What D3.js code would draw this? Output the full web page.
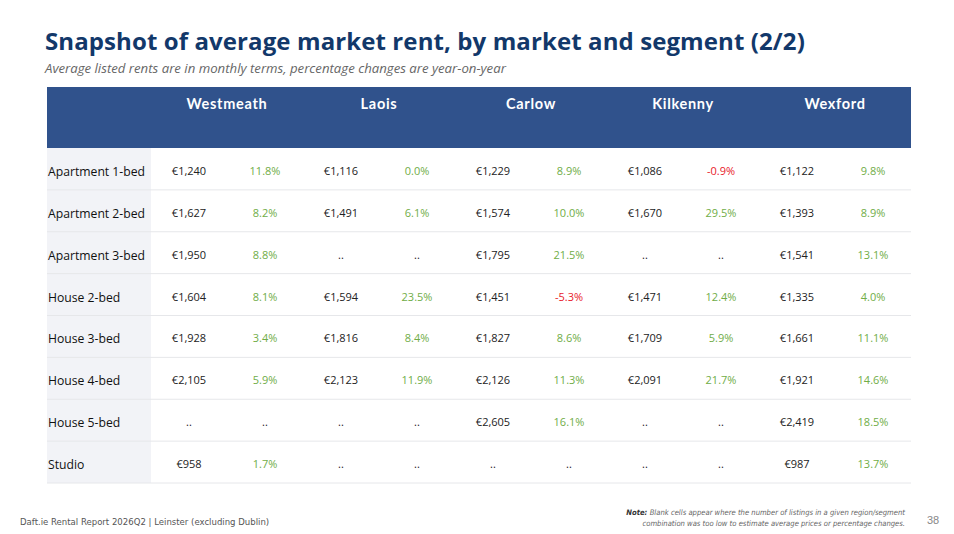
<!DOCTYPE html>
<html>
<head>
<meta charset="utf-8">
<script src="https://cdn.jsdelivr.net/npm/d3@7"></script>
<style>
  body { margin: 0; background: #fff; }
  svg { display: block; }
</style>
</head>
<body>
<div id="container"></div>
<script>
// données du tableau
const markets = ["Westmeath", "Laois", "Carlow", "Kilkenny", "Wexford"];
const segments = ["Apartment 1-bed", "Apartment 2-bed", "Apartment 3-bed", "House 2-bed",
  "House 3-bed", "House 4-bed", "House 5-bed", "Studio"];

// loyers moyens (null = pas assez d'annonces)
const rentWestmeath = [1240, 1627, 1950, 1604, 1928, 2105, null, 958];
const rentLaois = [1116, 1491, null, 1594, 1816, 2123, null, null];
const rentCarlow = [1229, 1574, 1795, 1451, 1827, 2126, 2605, null];
const rentKilkenny = [1086, 1670, null, 1471, 1709, 2091, null, null];
const rentWexford = [1122, 1393, 1541, 1335, 1661, 1921, 2419, 987];

// variation sur un an, en %
const chgWestmeath = [11.8, 8.2, 8.8, 8.1, 3.4, 5.9, null, 1.7];
const chgLaois = [0.0, 6.1, null, 23.5, 8.4, 11.9, null, null];
const chgCarlow = [8.9, 10.0, 21.5, -5.3, 8.6, 11.3, 16.1, null];
const chgKilkenny = [-0.9, 29.5, null, 12.4, 5.9, 21.7, null, null];
const chgWexford = [9.8, 8.9, 13.1, 4.0, 11.1, 14.6, 18.5, 13.7];

const rents = [rentWestmeath, rentLaois, rentCarlow, rentKilkenny, rentWexford];
const changes = [chgWestmeath, chgLaois, chgCarlow, chgKilkenny, chgWexford];

const W = 954, H = 534;
const tableLeft = 47, tableRight = 911,
  labelRight = 151,
  headTop = 87, headBottom = 148,
  bodyBottom = 483;

const font = "'Open Sans', sans-serif";
const navy = "#12386a", headBlue = "#30528c",
  green = "#70ad47", red = "#e8202a";

const svg = d3.select("#container").append("svg")
  .attr("width", W)
  .attr("height", H);

// titre + sous-titre
svg.append("text")
  .attr("x", 45).attr("y", 50)
  .style("font-family", font).style("font-weight", "bold")
  .style("font-size", "24px").style("fill", navy)
  .style("letter-spacing", "0.1px")
  .text("Snapshot of average market rent, by market and segment (2/2)");

svg.append("text")
  .attr("x", 45).attr("y", 73)
  .style("font-family", font).style("font-style", "italic")
  .style("font-size", "13.2px").style("fill", "#666")
  .text("Average listed rents are in monthly terms, percentage changes are year-on-year");

// échelles
const x = d3.scaleBand().domain(markets).range([labelRight, tableRight]);
const sub = d3.scaleBand().domain(["rent", "chg"]).range([0, x.bandwidth()]);
const y = d3.scaleBand().domain(segments).range([headBottom, bodyBottom]);

// en-tête
svg.append("rect")
  .attr("x", tableLeft).attr("y", headTop)
  .attr("width", tableRight - tableLeft).attr("height", headBottom - headTop)
  .attr("fill", headBlue);

svg.selectAll(".head")
  .data(markets)
  .enter().append("text")
    .attr("class", "head")
    .attr("x", d => x(d) + x.bandwidth() / 2)
    .attr("y", 109)
    .style("font-family", "Lato, 'Open Sans', sans-serif")
    .style("font-weight", "bold")
    .style("font-size", "14.5px")
    .style("letter-spacing", "0.7px")
    .style("text-anchor", "middle")
    .style("fill", "#fff")
    .text(d => d);

// colonne des segments
svg.append("rect")
  .attr("x", tableLeft).attr("y", headBottom)
  .attr("width", labelRight - tableLeft).attr("height", bodyBottom - headBottom)
  .attr("fill", "#f2f3f7");

// lignes de séparation
svg.selectAll(".sep")
  .data(segments)
  .enter().append("line")
    .attr("class", "sep")
    .attr("x1", tableLeft).attr("x2", tableRight)
    .attr("y1", d => y(d) + y.bandwidth())
    .attr("y2", d => y(d) + y.bandwidth())
    .attr("stroke", "#e6e7ea")
    .attr("stroke-width", 1);

svg.selectAll(".seg")
  .data(segments)
  .enter().append("text")
    .attr("class", "seg")
    .attr("x", 48)
    .attr("y", d => y(d) + y.bandwidth() / 2 + 7)
    .style("font-family", font)
    .style("font-size", "12.2px")
    .style("fill", "#111")
    .text(d => d);

// cellules
const cells = [];
markets.forEach((m, i) => {
  segments.forEach((s, j) => {
    cells.push({market: m, segment: s, kind: "rent", v: rents[i][j]});
    cells.push({market: m, segment: s, kind: "chg", v: changes[i][j]});
  });
});

const euro = d3.format(",.0f");

svg.selectAll(".cell")
  .data(cells)
  .enter().append("text")
    .attr("class", "cell")
    .attr("x", d => x(d.market) + sub(d.kind) + sub.bandwidth() / 2)
    .attr("y", d => y(d.segment) + y.bandwidth() / 2 + 6)
    .style("font-family", font)
    .style("font-size", "11px")
    .style("text-anchor", "middle")
    .style("fill", d => {
      if (d.v == null || d.kind == "rent") return "#222";
      return d.v < 0 ? red : green;
    })
    .text(d => {
      if (d.v == null) return "..";
      if (d.kind == "rent") return "€" + euro(d.v);
      return d.v.toFixed(1) + "%";
    });

// pied de page
svg.append("text")
  .attr("x", 20).attr("y", 525)
  .style("font-family", "'Liberation Sans Narrow', 'DejaVu Sans Condensed', sans-serif")
  .style("font-size", "9.5px").style("fill", "#555")
  .text("Daft.ie Rental Report 2026Q2 | Leinster (excluding Dublin)");

const note = svg.append("text")
  .attr("x", 905).attr("y", 515)
  .style("font-family", "'DejaVu Sans Condensed', sans-serif")
  .style("font-size", "7.6px").style("font-style", "italic")
  .style("text-anchor", "end").style("fill", "#666");
note.append("tspan").style("font-weight", "bold").style("fill", "#333").text("Note: ");
note.append("tspan").text("Blank cells appear where the number of listings in a given region/segment");

svg.append("text")
  .attr("x", 905).attr("y", 526)
  .style("font-family", "'DejaVu Sans Condensed', sans-serif")
  .style("font-size", "7.6px").style("font-style", "italic")
  .style("text-anchor", "end").style("fill", "#666")
  .text("combination was too low to estimate average prices or percentage changes.");

svg.append("text")
  .attr("x", 927).attr("y", 524)
  .style("font-family", "'Liberation Sans Narrow', sans-serif")
  .style("font-size", "11px").style("fill", "#888")
  .text("38");
</script>
</body>
</html>
